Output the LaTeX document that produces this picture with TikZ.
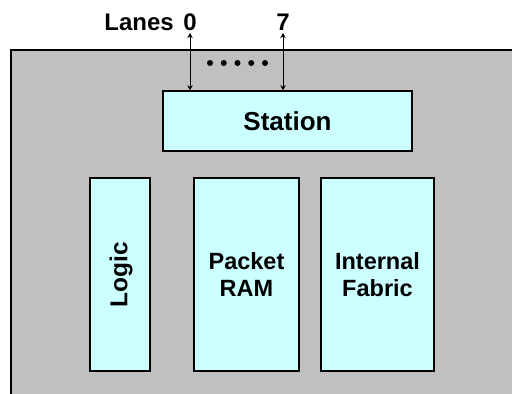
\documentclass[tikz,border=0pt]{standalone}
\usepackage{fontspec}
\setmainfont{Liberation Sans}
\usepackage{xcolor}
\usepackage{tikz}
\usetikzlibrary{arrows.meta}
\definecolor{chipgray}{HTML}{C0C0C0}
\definecolor{blockcyan}{HTML}{CCFFFF}
\tikzset{
  block/.style={draw, line width=1.5pt, fill=blockcyan, inner sep=0pt,
    align=center, font=\fontsize{23.5}{27}\selectfont\bfseries},
  lane arrow/.style={line width=0.9pt, {Stealth[length=5pt,width=5.5pt]}-{Stealth[length=5pt,width=5.5pt]}},
  lane label/.style={inner sep=0pt, anchor=base, font=\fontsize{24}{26}\selectfont\bfseries},
}

\begin{document}
\begin{tikzpicture}[x=1pt,y=-1pt]
                \useasboundingbox (0,0) rectangle (512,394);
                \fill[white] (0,0) rectangle (512,394);
                % chip outline
                \draw[line width=1.5pt, fill=chipgray] (11,50) rectangle (530,410);
                % blocks
                \node[block, minimum width=249pt, minimum height=60pt, font=\fontsize{26}{28}\selectfont\bfseries] (station) at (287.5,121) {Station};
                \node[block, minimum width=60pt, minimum height=193pt] (logic) at (120,274.5) {};
                \node[rotate=90, inner sep=0pt, font=\fontsize{24.5}{27}\selectfont\bfseries] (logictext) at ([xshift=1pt]logic.center) {Logic};
                \node[block, minimum width=105pt, minimum height=193pt] (ram) at (246.5,274.5) {Packet\\RAM};
                \node[block, minimum width=113pt, minimum height=193pt] (fabric) at (377.5,274.5) {Internal\\Fabric};
                % lanes
                \coordinate (lane0) at (190,33);
                \coordinate (lane7) at (283,33);
                \draw[lane arrow] (lane0) -- (station.north -| lane0);
                \draw[lane arrow] (lane7) -- (station.north -| lane7);
                \node[lane label] (zero) at (190,30) {0};
                \node[lane label] (seven) at (283,30) {7};
                \node[lane label, anchor=base east] (lanes) at (174,30) {Lanes};
                \foreach \i in {0,...,4}
                    \fill (210+13.75*\i,63) circle (3pt);
            \end{tikzpicture}
\end{document}
